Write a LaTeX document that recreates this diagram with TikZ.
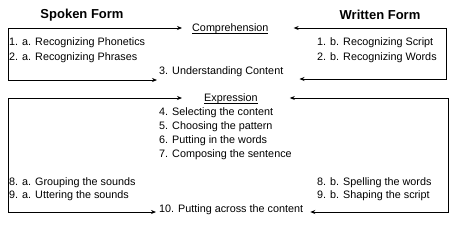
\documentclass[tikz,border=0pt]{standalone}
\usepackage{fontspec}
\setmainfont{Liberation Sans}
\usetikzlibrary{arrows.meta,calc}
\newcommand\ulword[1]{\underline{\smash{#1}}}
\begin{document}
\begin{tikzpicture}[x=1pt,y=-1pt,
  txt/.style={inner sep=0pt, anchor=west, text height=8pt, text depth=2.2pt, font=\fontsize{10.8}{13}\selectfont},
  head/.style={inner sep=0pt, font=\bfseries\fontsize{13}{15}\selectfont},
  arr/.style={line width=0.8pt, {Stealth[length=5pt,width=4pt]}-{Stealth[length=5pt,width=4pt]}}]
\fill[white] (0,0) rectangle (461,228);
\useasboundingbox (0,0) rectangle (461,228);
% headings
\node[head] (spoken) at (82,15) {Spoken Form};
\node[head] (written) at (380,15) {Written Form};
% comprehension block
\node[txt] (comp) at (192,29) {\ulword{Comprehension}};
\node[txt] (p1a) at (9,43) {1. a. Recognizing Phonetics};
\node[txt] (p2a) at (9,58) {2. a. Recognizing Phrases};
\node[txt] (und) at (159,72) {3. Understanding Content};
\node[txt] (p1b) at (317,43) {1. b. Recognizing Script};
\node[txt] (p2b) at (317,58) {2. b. Recognizing Words};
% expression block
\node[txt] (expr) at (204,99) {\ulword{Expression}};
\node[txt] (s4) at (159,113) {4. Selecting the content};
\node[txt] (s5) at (159,127) {5. Choosing the pattern};
\node[txt] (s6) at (159,141) {6. Putting in the words};
\node[txt] (s7) at (159,155) {7. Composing the sentence};
\node[txt] (p8a) at (9,183) {8. a. Grouping the sounds};
\node[txt] (p9a) at (9,196) {9. a. Uttering the sounds};
\node[txt] (p8b) at (317,183) {8. b. Spelling the words};
\node[txt] (p9b) at (317,196) {9. b. Shaping the script};
\node[txt] (put) at (159,210) {10. Putting across the content};
% frame coordinates
\coordinate (lx) at (8,0);
\coordinate (rxa) at (446,0);
\coordinate (rxb) at (448,0);
% connectors
\draw[arr, shorten <=10pt, shorten >=2pt]
  ([yshift=1pt]comp.west) -- ([yshift=1pt]comp.west -| lx) |- ([yshift=-8pt]und.west);
\draw[arr, shorten <=25pt, shorten >=16pt]
  ([yshift=1pt]comp.east) -- ([yshift=1pt]comp.east -| rxa) |- ([yshift=-7pt]und.east);
\draw[arr, shorten <=22pt, shorten >=3pt]
  ([yshift=1pt]expr.west) -- ([yshift=1pt]expr.west -| lx) |- ([yshift=-2pt]put.west);
\draw[arr, shorten <=32pt, shorten >=7pt]
  ([yshift=1pt]expr.east) -- ([yshift=1pt]expr.east -| rxb) |- ([yshift=-2pt]put.east);
\end{tikzpicture}
\end{document}
